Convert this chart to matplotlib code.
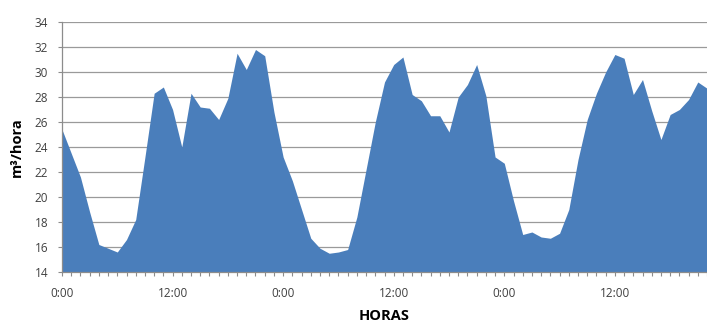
import matplotlib
matplotlib.use("Agg")
import matplotlib.pyplot as plt
import numpy as np

hours = list(range(0, 71))
flow = [25.4, 23.5, 21.6, 18.8, 16.2, 15.9, 15.6, 16.6, 18.2, 23.2,
        28.3, 28.8, 27.0, 24.0, 28.3, 27.2, 27.1, 26.2, 27.9, 31.5,
        30.2, 31.8, 31.3, 26.8, 23.2, 21.3, 19.0, 16.7, 15.9, 15.5,
        15.6, 15.8, 18.4, 22.2, 26.0, 29.2, 30.6, 31.2, 28.2, 27.7,
        26.5, 26.5, 25.2, 28.0, 29.0, 30.6, 28.1, 23.2, 22.7, 19.7,
        17.0, 17.2, 16.8, 16.7, 17.1, 19.0, 23.0, 26.2, 28.3, 30.0,
        31.4, 31.1, 28.2, 29.4, 26.9, 24.6, 26.6, 27.0, 27.8, 29.2,
        28.7]
xtick_pos = [0, 12, 24, 36, 48, 60]
xtick_labels = ["0:00", "12:00", "0:00", "12:00", "0:00", "12:00"]
yticks = list(range(14, 35, 2))

plt.rcParams['font.family'] = ['Open Sans', 'DejaVu Sans']

fig = plt.figure(figsize=(7.07, 3.23), dpi=100)
ax = fig.add_axes([62/707, 1-272/323, (707-62)/707, 250/323])

ax.fill_between(hours, 14, flow, color="#4a7ebb", linewidth=0, zorder=2)

ax.set_xlim(0, 69.7)
ax.set_ylim(14, 34)
ax.set_yticks(yticks)
ax.set_xticks(xtick_pos)
ax.set_xticklabels(xtick_labels)
ax.set_xticks(hours, minor=True)

ax.grid(axis='y', color="#9a9a9a", linewidth=0.9, zorder=0)
ax.set_axisbelow(True)

for s in ['top', 'right']:
    ax.spines[s].set_visible(False)
for s in ['left', 'bottom']:
    ax.spines[s].set_color("#8c8c8c")
    ax.spines[s].set_linewidth(0.9)

ax.tick_params(axis='y', length=3, width=0.8, color="#8c8c8c", labelsize=8.5,
               labelcolor="#404040", pad=7)
ax.tick_params(axis='x', which='both', length=3, width=0.8, color="#8c8c8c",
               labelsize=8.5, labelcolor="#404040", pad=8)

ax.set_ylabel("m³/hora", fontsize=10.5, fontweight='bold', labelpad=8)
ax.set_xlabel("HORAS", fontsize=10.5, fontweight='bold', labelpad=6)

fig.savefig("out.png", dpi=100)
